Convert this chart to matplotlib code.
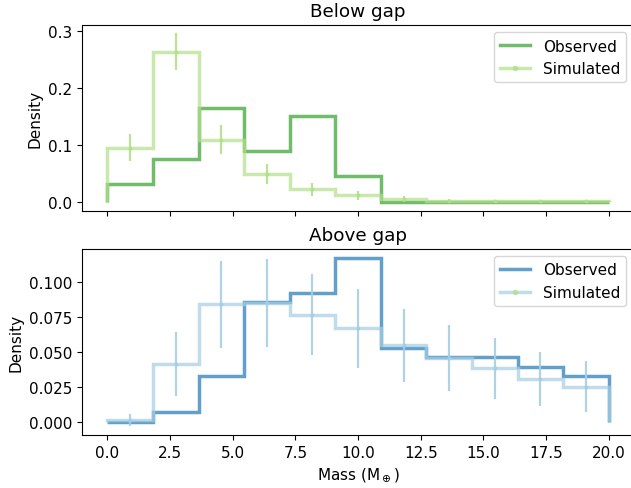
import numpy as np
import matplotlib
matplotlib.use("Agg")
import matplotlib.pyplot as plt
from matplotlib.lines import Line2D

# Bin edges: 11 bins from 0 to 20 Earth masses
bin_edges = np.linspace(0, 20, 12)
bin_centers = 0.5 * (bin_edges[:-1] + bin_edges[1:])

# Below gap
below_observed = [0.0316, 0.0754, 0.164, 0.090, 0.150, 0.046, 0.0, 0.0, 0.0, 0.0, 0.0]
below_simulated = [0.0947, 0.264, 0.109, 0.049, 0.0216, 0.011, 0.005, 0.002, 0.001, 0.001, 0.001]
below_sim_err = [0.024, 0.032, 0.026, 0.017, 0.012, 0.008, 0.005, 0.002, 0.001, 0.001, 0.001]

# Above gap
above_observed = [0.0, 0.0071, 0.0331, 0.0853, 0.0917, 0.1173, 0.0528, 0.0462, 0.0462, 0.0396, 0.0329]
above_simulated = [0.0016, 0.0415, 0.0841, 0.0849, 0.0766, 0.0668, 0.055, 0.0458, 0.0384, 0.0308, 0.0253]
above_sim_err = [0.004, 0.0225, 0.031, 0.031, 0.029, 0.028, 0.026, 0.0237, 0.0218, 0.0195, 0.018]

titles = ["Below gap", "Above gap"]
xticks = [0.0, 2.5, 5.0, 7.5, 10.0, 12.5, 15.0, 17.5, 20.0]

green_dark = "#33a02c"
green_light = "#b2df8a"
blue_dark = "#1f78b4"
blue_light = "#a6cee3"

plt.rcParams.update({
    "font.size": 11,
    "xtick.labelsize": 11,
    "ytick.labelsize": 11,
    "axes.labelsize": 11,
    "legend.fontsize": 11,
    "xtick.major.size": 3.85,
    "ytick.major.size": 3.85,
})

fig = plt.figure(figsize=(6.31, 4.89), dpi=100)
ax_top = fig.add_axes([0.1304, 0.5658, 0.8740, 0.3815])
ax_bot = fig.add_axes([0.1304, 0.1094, 0.8740, 0.3800], sharex=ax_top)

panels = [
    (ax_top, below_observed, below_simulated, below_sim_err, green_dark, green_light, (-0.0169, 0.311)),
    (ax_bot, above_observed, above_simulated, above_sim_err, blue_dark, blue_light, (-0.0087, 0.1236)),
]

for i, (ax, obs, sim, err, cdark, clight, ylim) in enumerate(panels):
    ax.stairs(obs, bin_edges, color=cdark, alpha=0.7, lw=2.5, baseline=0)
    ax.stairs(sim, bin_edges, color=clight, alpha=0.7, lw=2.5, baseline=0)
    ax.errorbar(bin_centers, sim, yerr=err, fmt='.', color=clight, alpha=0.9,
                lw=1.6, markersize=3.5, capsize=0)
    ax.set_ylim(*ylim)
    ax.set_xlim(-1, 21)
    ax.set_ylabel("Density")
    ax.set_title(titles[i], fontsize=13.2)
    handles = [
        Line2D([], [], color=cdark, alpha=0.7, lw=2.5),
        Line2D([], [], color=clight, alpha=0.7, lw=2.5, marker='.', markersize=6,
               markerfacecolor=green_light, markeredgecolor=green_light),
    ]
    ax.legend(handles, ["Observed", "Simulated"], loc="upper right")

ax_top.set_xticks(xticks)
ax_top.tick_params(labelbottom=False)
ax_bot.set_xticks(xticks)
ax_top.set_yticks([0.0, 0.1, 0.2, 0.3])
ax_bot.set_yticks([0.0, 0.025, 0.05, 0.075, 0.1])
ax_bot.set_xlabel(r"Mass (M$_\oplus$)")

fig.savefig("out.png", dpi=100)
